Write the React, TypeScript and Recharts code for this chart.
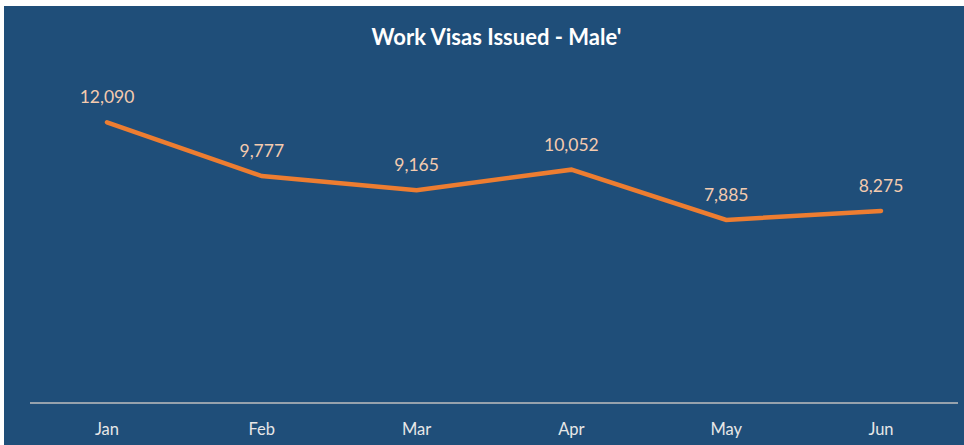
import React from 'react';
import { LineChart, Line, XAxis, YAxis, LabelList } from 'recharts';

const months = ['Jan', 'Feb', 'Mar', 'Apr', 'May', 'Jun'];
const visas = [12090, 9777, 9165, 10052, 7885, 8275];

const data = months.map((m, i) => ({ month: m, visas: visas[i] }));

const font = 'Lato, "Noto Sans", sans-serif';

const App = () => {
    return (
        <div style={{ position: 'absolute', left: 4, top: 6, width: 960, height: 439, background: '#1F4E79', fontFamily: font }}>
            <div
                style={{
                    position: 'absolute',
                    left: 0,
                    width: 985,
                    top: 17,
                    textAlign: 'center',
                    color: '#FFFFFF',
                    fontWeight: 700,
                    fontSize: 22,
                }}
            >
                Work Visas Issued - Male'
            </div>
            <LineChart width={960} height={439} data={data} margin={{ top: 72, right: 6, bottom: 12, left: 26 }}>
                <XAxis
                    dataKey="month"
                    height={30}
                    stroke="#BFBFBF"
                    strokeWidth={1.5}
                    tickLine={false}
                    padding={{ left: 77, right: 77 }}
                    tick={{ fill: '#E7E7E7', fontSize: 16.5, fontFamily: font }}
                    tickMargin={14}
                />
                <YAxis hide domain={[0, 14000]} />
                <Line
                    type="linear"
                    dataKey="visas"
                    stroke="#ED7D31"
                    strokeWidth={4.5}
                    strokeLinecap="round"
                    dot={false}
                    isAnimationActive={false}
                >
                    <LabelList
                        dataKey="visas"
                        position="top"
                        offset={19}
                        formatter={(v: any) => Number(v).toLocaleString('en-US')}
                        style={{ fill: '#F4CBAF', fontSize: 17.5, fontFamily: font }}
                    />
                </Line>
            </LineChart>
        </div>
    );
};

export default App;
